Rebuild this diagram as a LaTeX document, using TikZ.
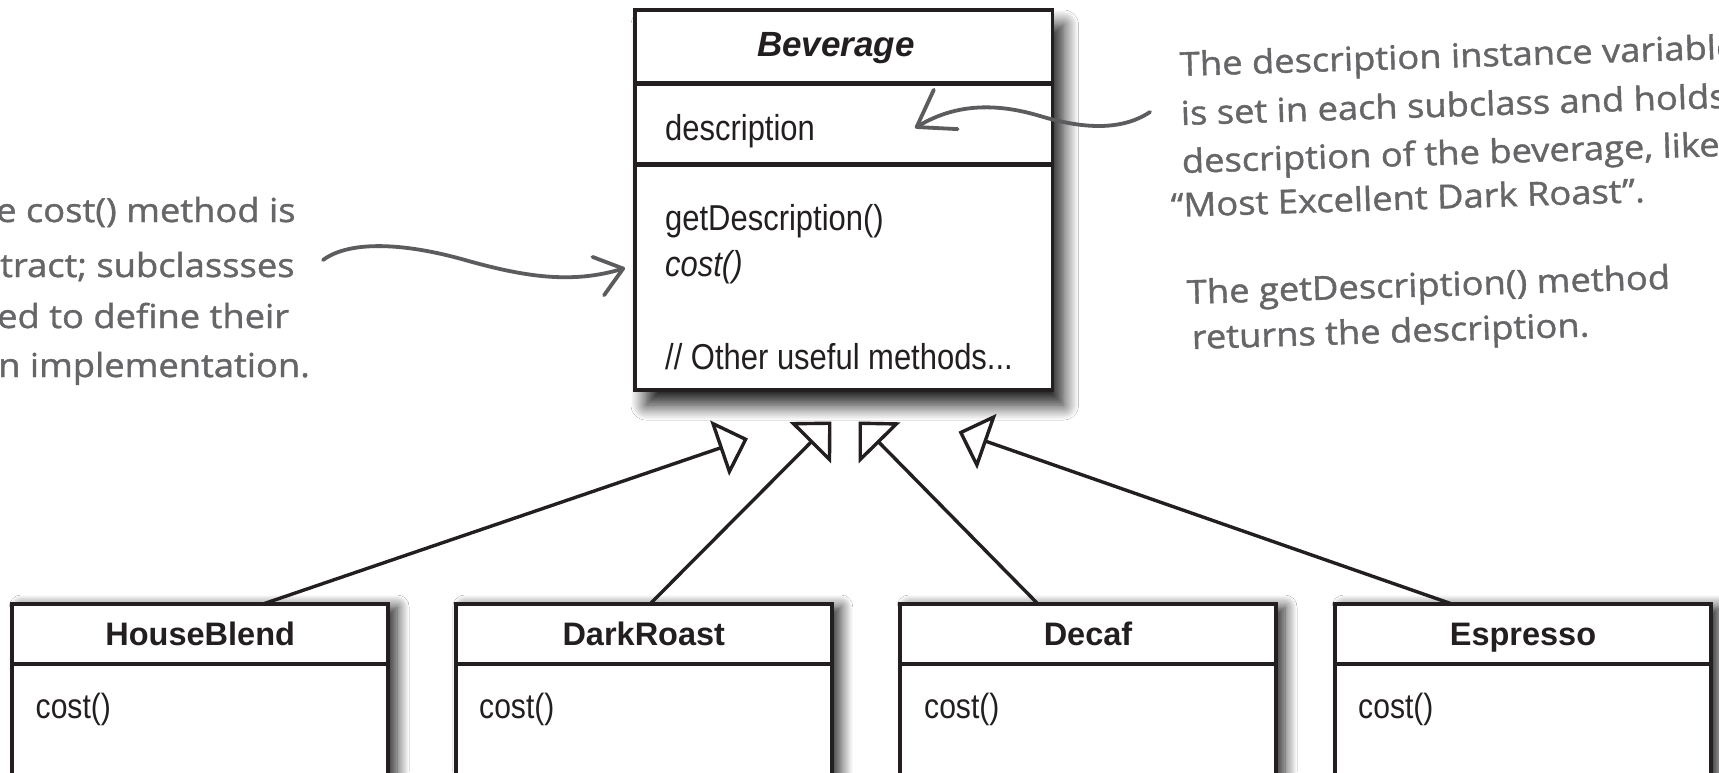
\documentclass[tikz,border=0pt]{standalone}
\usepackage{fontspec}
\setmainfont{Liberation Sans}
\newfontfamily\umlnarrow[FakeStretch=0.86]{Liberation Sans}
\newfontfamily\handwriting[FakeStretch=1.1,FakeBold=1.2]{Open Sans}
\usetikzlibrary{arrows.meta,shadows.blur}

\definecolor{ink}{RGB}{35,31,32}
\definecolor{pencil}{RGB}{102,102,105}
\definecolor{pencilline}{RGB}{92,92,95}

\begin{document}
\begin{tikzpicture}[x=1pt,y=-1pt,
  classbox/.style={draw=ink, line width=3.5pt, fill=white, inner sep=0pt, outer sep=0pt},
  bigshadow/.style={blur shadow={shadow xshift=11pt, shadow yshift=-15pt, shadow blur radius=15pt, shadow blur steps=14, shadow opacity=90}},
  smallshadow/.style={blur shadow={shadow xshift=9pt, shadow yshift=-3pt, shadow blur radius=12pt, shadow blur steps=12, shadow opacity=85}},
  subbox/.style={classbox, smallshadow, minimum width=376pt, minimum height=216pt},
  divider/.style={draw=ink, line width=4.2pt},
  classname/.style={inner sep=0pt, anchor=base, text=ink, font=\fontsize{32.5}{39}\selectfont\bfseries},
  member/.style={inner sep=0pt, anchor=base west, text=ink, font=\umlnarrow\fontsize{36}{43}\selectfont},
  submember/.style={member, font=\umlnarrow\fontsize{35}{42}\selectfont},
  inherit/.style={draw=ink, line width=3.4pt, -{Triangle[open, length=30pt, width=58pt, line join=miter]}},
  note/.style={inner sep=0pt, anchor=base west, text=pencil, font=\handwriting\fontsize{33}{40}\selectfont},
  pointer/.style={draw=pencilline, line width=3.8pt, line cap=round},
]
\useasboundingbox (0,0) rectangle (1719,772);
\clip (0,0) rectangle (1719,772);
\fill[white] (0,0) rectangle (1719,772);

% abstract superclass
\node[classbox, bigshadow, minimum width=417.5pt, minimum height=380pt] (bev) at (843.75,200) {};
\draw[divider] (bev.west |- 0,83.5) -- (bev.east |- 0,83.5);
\draw[divider] (bev.west |- 0,164.5) -- (bev.east |- 0,164.5);
\node[classname, font=\fontsize{35}{42}\selectfont\bfseries\itshape] (bevname) at (836,56.7) {Beverage};
\node[member] (bevattr) at (665,140) {description};
\node[member] (bevget) at (665,230.5) {getDescription()};
\node[member, font=\umlnarrow\fontsize{36}{43}\selectfont\itshape] (bevcost) at (665,276.7) {cost()};
\node[member] (bevother) at (665,369) {// Other useful methods...};

% concrete subclasses
\node[subbox] (house) at (200.2,712) {};
\node[subbox] (dark) at (643.8,712) {};
\node[subbox] (decaf) at (1088,712) {};
\node[subbox] (espresso) at (1523,712) {};
\foreach \c in {house,dark,decaf,espresso}
  \draw[divider] (\c.west |- 0,664) -- (\c.east |- 0,664);

\node[classname] (housename) at (house.center |- 0,645) {HouseBlend};
\node[classname] (darkname) at (dark.center |- 0,645) {DarkRoast};
\node[classname] (decafname) at (decaf.center |- 0,645) {Decaf};
\node[classname] (espressoname) at (espresso.center |- 0,645) {Espresso};

\node[submember] (housecost) at (35.5,718) {cost()};
\node[submember] (darkcost) at (479,718) {cost()};
\node[submember] (decafcost) at (924,718) {cost()};
\node[submember] (espressocost) at (1358,718) {cost()};

% generalisation arrows
\coordinate (tipA) at (748,438.5);
\coordinate (tipB) at (831.5,421.5);
\coordinate (tipC) at (858.5,421.5);
\coordinate (tipD) at (958.5,431.7);
\draw[inherit] (house.north -| 263,0) -- (tipA);
\draw[inherit] (dark.north -| 650,0) -- (tipB);
\draw[inherit] (decaf.north -| 1038,0) -- (tipC);
\draw[inherit] (espresso.north -| 1452,0) -- (tipD);

% handwritten note about cost()
\node[note] (costA) at (-4,222) {e cost() method is};
\node[note] (costB) at (0,277) {tract; subclassses};
\node[note] (costC) at (-3,328) {ed to define their};
\node[note] (costD) at (-2,377) {n implementation.};

% handwritten notes about description
\node[note, rotate=1.8] (descA) at (1180,76) {The description instance variable};
\node[note, rotate=1.8] (descB) at (1181,125) {is set in each subclass and holds};
\node[note, rotate=1.8] (descC) at (1182,173) {description of the beverage, like};
\node[note, rotate=1.8] (descD) at (1171,217) {“Most Excellent Dark Roast”.};
\node[note, rotate=1.8] (getA) at (1187,304) {The getDescription() method};
\node[note, rotate=1.8] (getB) at (1192,349) {returns the description.};

% pointers from the notes
\coordinate (costfrom) at (323,260);
\coordinate (costto) at (625,268);
\draw[pointer, -{Straight Barb[length=26pt, width=40pt, round]}]
  (costfrom) .. controls (350,240) and (405,243) .. (465,260)
  .. controls (525,277) and (572,284) .. (costto);

\coordinate (descfrom) at (1150,112);
\coordinate (descto) at (915,128);
\draw[pointer, -{Straight Barb[length=34pt, width=46pt, round]}]
  (descfrom) .. controls (1120,132) and (1080,128) .. (1040,116)
  .. controls (1000,104) and (958,102) .. (descto);
\end{tikzpicture}
\end{document}
